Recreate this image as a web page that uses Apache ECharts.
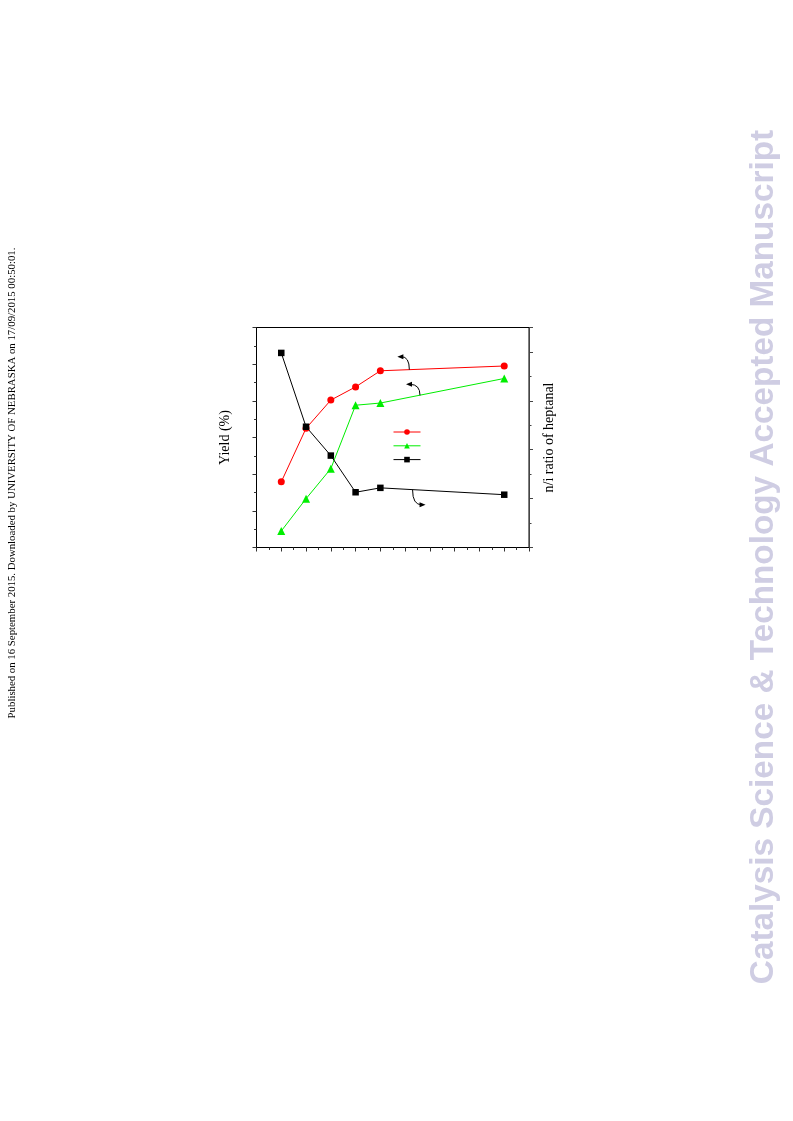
<!DOCTYPE html>
<html>
<head>
<meta charset="utf-8">
<script src="https://cdn.jsdelivr.net/npm/echarts@6/dist/echarts.min.js"></script>
<style>
html,body{margin:0;padding:0;background:#fff;}
#chart{width:793px;height:1121px;}
</style>
</head>
<body>
<div id="chart"></div>
<script>
// Data
const xValues = [1, 2, 3, 4, 5, 10];
const yieldRed = [17.9, 32.5, 40.2, 43.8, 48.2, 49.5];
const yieldGreen = [4.5, 13.3, 21.5, 38.8, 39.4, 46.1];
const niRatio = [3.98, 2.47, 1.88, 1.13, 1.22, 1.08];
const seriesKeys = ['s1', 's2', 's3'];
const leftAxisName = 'Yield (%)';
const rightAxisName = 'n/i ratio of heptanal';
const watermark = 'Catalysis Science & Technology Accepted Manuscript';
const sideNote = 'Published on 16 September 2015. Downloaded by UNIVERSITY OF NEBRASKA on 17/09/2015 00:50:01.';

const pairs = (ys) => xValues.map((x, i) => [x, ys[i]]);

const chart = echarts.init(document.getElementById('chart'), null, {renderer: 'canvas'});
const serif = 'Liberation Serif, Times New Roman, serif';

const option = {
  backgroundColor: '#fff',
  animation: false,
  grid: {left: 256.5, top: 327.5, width: 272.5, height: 220, show: true, borderColor: '#000', borderWidth: 1, containLabel: false},
  legend: {
    data: seriesKeys,
    orient: 'vertical',
    left: 393, top: 428.5,
    itemWidth: 27, itemHeight: 7, itemGap: 7.5,
    formatter: () => '',
    textStyle: {fontSize: 1},
    lineStyle: {width: 1},
    padding: 0
  },
  xAxis: {
    type: 'value', min: 0, max: 11, interval: 1,
    axisLine: {lineStyle: {color: '#000', width: 1}},
    axisTick: {inside: false, length: 4, lineStyle: {color: '#333'}},
    minorTick: {show: true, splitNumber: 2, length: 2.5, lineStyle: {color: '#333'}},
    axisLabel: {show: false},
    splitLine: {show: false}
  },
  yAxis: [
    {
      type: 'value', min: 0, max: 60, interval: 10, position: 'left',
      name: leftAxisName, nameLocation: 'middle', nameGap: 24, nameRotate: 90,
      nameTextStyle: {fontFamily: serif, fontSize: 14, color: '#000'},
      axisLine: {show: true, lineStyle: {color: '#000'}},
      axisTick: {show: true, length: 4, lineStyle: {color: '#333'}},
      minorTick: {show: true, splitNumber: 2, length: 2.5, lineStyle: {color: '#333'}},
      axisLabel: {show: false},
      splitLine: {show: false}
    },
    {
      type: 'value', min: 0, max: 4.5, interval: 1, position: 'right',
      name: rightAxisName, nameLocation: 'middle', nameGap: 13, nameRotate: 90,
      nameTextStyle: {fontFamily: serif, fontSize: 14, color: '#000'},
      axisLine: {show: true, lineStyle: {color: '#444'}},
      axisTick: {show: true, length: 4, lineStyle: {color: '#444'}},
      minorTick: {show: true, splitNumber: 2, length: 2.5, lineStyle: {color: '#444'}},
      axisLabel: {show: false},
      splitLine: {show: false}
    }
  ],
  series: [
    {name: seriesKeys[0], type: 'line', yAxisIndex: 0, data: pairs(yieldRed),
     symbol: 'circle', symbolSize: 7, lineStyle: {color: '#ff0000', width: 1},
     itemStyle: {color: '#ff0000'}},
    {name: seriesKeys[1], type: 'line', yAxisIndex: 0, data: pairs(yieldGreen),
     symbol: 'triangle', symbolSize: 8, lineStyle: {color: '#00ee00', width: 1},
     itemStyle: {color: '#00ee00'}},
    {name: seriesKeys[2], type: 'line', yAxisIndex: 1, data: pairs(niRatio),
     symbol: 'rect', symbolSize: 6.5, lineStyle: {color: '#000', width: 1},
     itemStyle: {color: '#000'}}
  ]
};
chart.setOption(option);

// Annotation arrows, anchored on the lines through the library's scales
function px(axisIdx, pt) { return chart.convertToPixel({xAxisIndex: 0, yAxisIndex: axisIdx}, pt); }
function arrow(start, cp, end, dirX) {
  const head = dirX < 0
    ? [[end[0], end[1]], [end[0] + 6, end[1] - 2.5], [end[0] + 6, end[1] + 2.5]]
    : [[end[0], end[1]], [end[0] - 6, end[1] - 2.5], [end[0] - 6, end[1] + 2.5]];
  return [
    {type: 'bezierCurve', shape: {x1: start[0], y1: start[1], x2: end[0] - dirX * 4, y2: end[1], cpx1: cp[0], cpy1: cp[1]},
     style: {stroke: '#000', lineWidth: 1, fill: null}, z: 10},
    {type: 'polygon', shape: {points: head}, style: {fill: '#000'}, z: 10}
  ];
}
const aRed = px(0, [6.17, 48.5]);
const aGreen = px(0, [6.6, 41.5]);
const aBlack = px(1, [6.3, 1.18]);
const graphics = [].concat(
  arrow(aRed, [aRed[0], aRed[1] - 13], [aRed[0] - 12, aRed[1] - 13], -1),
  arrow(aGreen, [aGreen[0], aGreen[1] - 11], [aGreen[0] - 14, aGreen[1] - 11], -1),
  arrow(aBlack, [aBlack[0], aBlack[1] + 15], [aBlack[0] + 13, aBlack[1] + 15], 1),
  [
    {type: 'text', x: 764, y: 557, rotation: Math.PI / 2,
     style: {text: watermark, font: 'bold 33.3px "Liberation Sans", Arial, sans-serif', fill: '#cfcde3', align: 'center', verticalAlign: 'middle'}},
    {type: 'text', x: 12, y: 483, rotation: Math.PI / 2,
     style: {text: sideNote, font: '10.8px "Liberation Serif", "Times New Roman", serif', fill: '#000', align: 'center', verticalAlign: 'middle'}}
  ]
);
chart.setOption({graphic: graphics});
</script>
</body>
</html>
